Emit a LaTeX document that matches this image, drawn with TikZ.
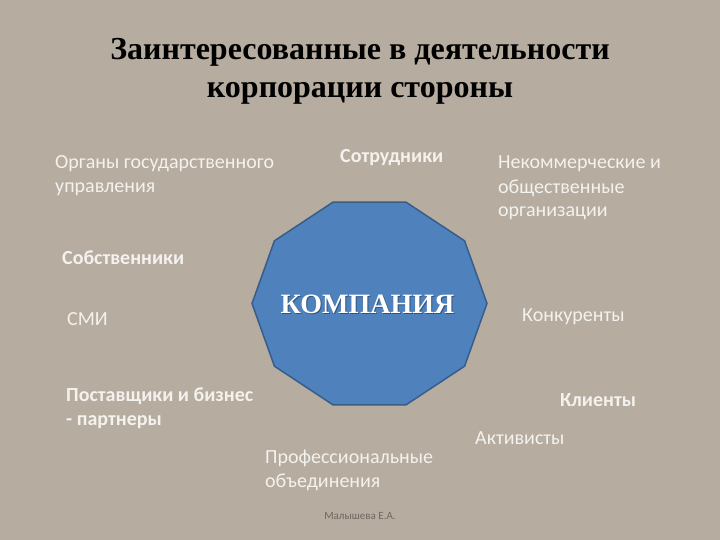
\documentclass[tikz,border=0pt]{standalone}
\usepackage{fontspec}
\setmainfont{Liberation Serif}
\newfontfamily\lblfont{Carlito}
\definecolor{bgc}{RGB}{182,172,160}
\definecolor{lbl}{RGB}{244,242,238}
\definecolor{octfill}{RGB}{79,129,189}
\definecolor{octedge}{RGB}{56,93,138}
\definecolor{authc}{RGB}{110,104,98}
\tikzset{
  lab/.style={inner sep=0pt, anchor=base west, align=left, text=lbl,
    font=\lblfont\fontsize{20}{24}\selectfont},
  labb/.style={lab, font=\lblfont\bfseries\fontsize{20}{24}\selectfont},
  ttl/.style={inner sep=0pt, anchor=base, font=\bfseries\fontsize{32}{36}\selectfont},
}
\begin{document}
\begin{tikzpicture}[x=1pt,y=-1pt]
\fill[bgc] (0,0) rectangle (720,540);
\useasboundingbox (0,0) rectangle (720,540);
% title
\node[ttl] (t1) at (360,60) {Заинтересованные в деятельности};
\node[ttl] (t2) at (360,98) {корпорации стороны};
% decagon
\fill[octfill, draw=octedge, line width=1.5pt]
  ({369.5+117.5*cos(0)},{303.5-106.7*sin(0)})
  \foreach \a in {36,72,...,324} { -- ({369.5+117.5*cos(\a)},{303.5-106.7*sin(\a)}) } -- cycle;
\node[inner sep=0pt, anchor=base, text=black, opacity=0.35, font=\bfseries\fontsize{28}{32}\selectfont] at (368.5,314) {КОМПАНИЯ};
\node[inner sep=0pt, anchor=base, text=white, font=\bfseries\fontsize{28}{32}\selectfont] (comp) at (367.5,313) {КОМПАНИЯ};
% labels (anchor at baseline of last line)
\node[lab] (gov) at (55,193) {Органы государственного\\управления};
\node[labb] (emp) at (340,163) {Сотрудники};
\node[lab] (ngo) at (498,217) {Некоммерческие и\\общественные\\организации};
\node[labb] (own) at (62,264) {Собственники};
\node[lab] (media) at (67,325) {СМИ};
\node[lab] (comp2) at (522,321) {Конкуренты};
\node[labb] (sup) at (66,425) {Поставщики и бизнес\\- партнеры};
\node[labb] (cli) at (560,406) {Клиенты};
\node[lab] (act) at (475,444) {Активисты};
\node[lab] (prof) at (265,487) {Профессиональные\\объединения};
\node[inner sep=0pt, anchor=base, text=authc, font=\lblfont\fontsize{11}{13}\selectfont] (auth) at (360,519) {Малышева Е.А.};
\end{tikzpicture}
\end{document}
